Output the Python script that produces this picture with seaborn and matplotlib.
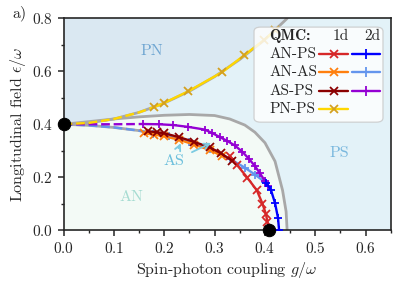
import numpy as np
import matplotlib
matplotlib.use("Agg")
import matplotlib.pyplot as plt
import seaborn as sns
from matplotlib.patches import FancyBboxPatch
from matplotlib.ticker import AutoMinorLocator

# --- mean-field phase boundaries (gray) ---
mf_pnps_g = [0.0, 0.05, 0.1, 0.15, 0.2, 0.25, 0.3, 0.35, 0.4, 0.444]
mf_pnps_e = [0.4, 0.405, 0.42, 0.445, 0.48, 0.525, 0.58, 0.645, 0.72, 0.80]
mf_arc_g = [0.0, 0.05, 0.1, 0.15, 0.2, 0.25, 0.3, 0.33, 0.36, 0.38, 0.4, 0.42, 0.435, 0.442, 0.444]
mf_arc_e = [0.4, 0.41, 0.42, 0.428, 0.434, 0.437, 0.433, 0.42, 0.397, 0.37, 0.33, 0.26, 0.15, 0.07, 0.0]
mf_anas_g = [0.0, 0.05, 0.1, 0.15, 0.18]
mf_anas_e = [0.4, 0.396, 0.388, 0.376, 0.364]

# --- QMC boundaries ---
# 1d
anps_1d_g = [0.33, 0.345, 0.365, 0.384, 0.395, 0.402, 0.405, 0.408]
anps_1d_e = [0.28, 0.245, 0.198, 0.15, 0.10, 0.06, 0.03, 0.0]
anas_1d_g = [0.16, 0.18, 0.2, 0.23, 0.26, 0.29, 0.315]
anas_1d_e = [0.366, 0.361, 0.355, 0.341, 0.323, 0.303, 0.28]
asps_1d_g = [0.167, 0.185, 0.2, 0.23, 0.26, 0.29, 0.313, 0.335]
asps_1d_e = [0.374, 0.37, 0.366, 0.351, 0.333, 0.313, 0.29, 0.262]
pnps_1d_g = [0.18, 0.199, 0.248, 0.315, 0.359, 0.398, 0.42]
pnps_1d_e = [0.465, 0.48, 0.525, 0.597, 0.661, 0.718, 0.755]
pnps_1d_dash_g = [0.0, 0.05, 0.1, 0.15, 0.18]
pnps_1d_dash_e = [0.4, 0.405, 0.42, 0.445, 0.465]
# 2d
anps_2d_g = [0.403, 0.412, 0.42, 0.426, 0.428]
anps_2d_e = [0.178, 0.151, 0.102, 0.045, 0.0]
anas_2d_g = [0.178, 0.21, 0.25, 0.29, 0.33, 0.36, 0.38, 0.401]
anas_2d_e = [0.365, 0.354, 0.334, 0.305, 0.27, 0.236, 0.21, 0.18]
anas_2d_dash_g = [0.0, 0.05, 0.1, 0.15, 0.178]
anas_2d_dash_e = [0.4, 0.396, 0.388, 0.376, 0.365]
asps_2d_g = [0.157, 0.19, 0.218, 0.248, 0.28, 0.295, 0.31, 0.325, 0.34, 0.355, 0.368, 0.38, 0.39, 0.4, 0.406]
asps_2d_e = [0.401, 0.4, 0.397, 0.39, 0.38, 0.367, 0.352, 0.337, 0.32, 0.296, 0.27, 0.242, 0.215, 0.185, 0.165]
asps_2d_dash_g = [0.0, 0.05, 0.1, 0.157]
asps_2d_dash_e = [0.4, 0.4, 0.4, 0.401]

crit_g = [0.0, 0.408]
crit_e = [0.4, 0.0]

legend_rows = ["AN-PS", "AN-AS", "AS-PS", "PN-PS"]
colors_1d = ["#d62728", "#ff7f0e", "#8b0000", "#ffd700"]
colors_2d = ["#0000ff", "#6495ed", "#9400d3", None]

PN_COLOR = "#dae8f2"
PS_COLOR = "#e3f2f8"
AN_COLOR = "#f3faf6"
GRAY = "#a8a8a8"
FS = 11.5
LFS = 11

sns.set_style("ticks")
plt.rcParams["font.family"] = ["cmr10"]
plt.rcParams["mathtext.fontset"] = "cm"
plt.rcParams["axes.formatter.use_mathtext"] = True
plt.rcParams["axes.unicode_minus"] = False

fig = plt.figure(figsize=(4.05, 2.88), dpi=100)
ax = fig.add_axes([0.157, 0.201, 0.808, 0.735])
ax.set_facecolor(PS_COLOR)
ax.fill_between(mf_arc_g, 0, mf_arc_e, color=AN_COLOR, lw=0, zorder=0)
ax.fill_between(mf_pnps_g, mf_pnps_e, 0.8, color=PN_COLOR, lw=0, zorder=0)


def curve(g, e, color, marker=None, ls="-", z=3, mec=None):
    kw = {}
    if marker:
        kw = dict(marker=marker, markersize=5.5, markeredgewidth=1.3,
                  markeredgecolor=mec or color)
    sns.lineplot(x=g, y=e, color=color, lw=1.7, linestyle=ls, sort=False,
                 estimator=None, ax=ax, zorder=z, **kw)


# gray mean-field lines
for g, e in [(mf_pnps_g, mf_pnps_e), (mf_arc_g, mf_arc_e), (mf_anas_g, mf_anas_e)]:
    sns.lineplot(x=g, y=e, color=GRAY, lw=2, sort=False, estimator=None, ax=ax, zorder=2)

curve(anas_2d_dash_g, anas_2d_dash_e, colors_2d[1], ls="--", z=3)
curve(anas_2d_g, anas_2d_e, colors_2d[1], marker="+", z=3)
curve(anas_1d_g, anas_1d_e, colors_1d[1], marker="x", z=4)
curve(asps_2d_dash_g, asps_2d_dash_e, colors_2d[2], ls="--", z=4)
curve(asps_2d_g, asps_2d_e, colors_2d[2], marker="+", z=4)
curve(anps_2d_g, anps_2d_e, colors_2d[0], marker="+", z=4)
curve(anps_1d_g, anps_1d_e, colors_1d[0], marker="x", z=5)
curve(asps_1d_g, asps_1d_e, colors_1d[2], marker="x", z=5)
curve(pnps_1d_dash_g, pnps_1d_dash_e, colors_1d[3], ls="--", z=4)
curve(pnps_1d_g, pnps_1d_e, colors_1d[3], marker="x", z=4, mec="#d4a020")

sns.scatterplot(x=crit_g, y=crit_e, color="black", s=80, ax=ax, zorder=8,
                clip_on=False, edgecolor="black")

# region labels
ax.text(0.175, 0.675, "PN", color="#6fa6d2", fontsize=FS, ha="center", va="center")
ax.text(0.547, 0.29, "PS", color="#7ab8de", fontsize=FS, ha="center", va="center")
ax.text(0.135, 0.125, "AN", color="#a6dcd2", fontsize=FS, ha="center", va="center")
ax.text(0.22, 0.262, "AS", color="#6cbfdc", fontsize=FS, ha="center", va="center")
ax.annotate("", xy=(0.235, 0.338), xytext=(0.226, 0.3),
            arrowprops=dict(arrowstyle="->", color="#7ccbe2", lw=1.3), zorder=9)
ax.annotate("", xy=(0.298, 0.334), xytext=(0.25, 0.29),
            arrowprops=dict(arrowstyle="->", color="#7ccbe2", lw=1.3), zorder=9)

ax.set_xlim(0, 0.65)
ax.set_ylim(0, 0.8)
ax.set_xticks(np.arange(0, 0.61, 0.1))
ax.set_yticks(np.arange(0, 0.81, 0.2))
ax.xaxis.set_minor_locator(AutoMinorLocator(2))
ax.yaxis.set_minor_locator(AutoMinorLocator(2))
ax.tick_params(which="major", direction="out", length=4, width=1.1, labelsize=11, color="#262626")
ax.tick_params(which="minor", direction="out", length=2.5, width=1.0, color="#262626")
for sp in ax.spines.values():
    sp.set_visible(True)
    sp.set_color("#262626")
    sp.set_linewidth(1.2)
ax.set_xlabel(r"Spin-photon coupling $g/\omega$", fontsize=FS, labelpad=3)
ax.set_ylabel(r"Longitudinal field $\epsilon/\omega$", fontsize=FS, labelpad=3)

# legend drawn by hand: rows x {1d, 2d}
ax.add_patch(FancyBboxPatch((0.582, 0.51), 0.394, 0.449,
                            boxstyle="round,pad=0,rounding_size=0.02",
                            transform=ax.transAxes, fc="white", ec="#c8c8c8",
                            lw=0.9, alpha=0.82, zorder=10))
ax.text(0.628, 0.916, "QMC:", family="cmb10", fontsize=LFS, transform=ax.transAxes,
        va="center", zorder=11)
ax.text(0.847, 0.916, "1d", fontsize=LFS, transform=ax.transAxes, ha="center", va="center", zorder=11)
ax.text(0.942, 0.916, "2d", fontsize=LFS, transform=ax.transAxes, ha="center", va="center", zorder=11)
row_y = [0.831, 0.746, 0.657, 0.572]
for name, c1, c2, y in zip(legend_rows, colors_1d, colors_2d, row_y):
    ax.text(0.628, y, name, fontsize=LFS, transform=ax.transAxes, va="center", zorder=11)
    mec = "#d4a020" if name == "PN-PS" else c1
    ax.plot([0.782, 0.869], [y, y], color=c1, lw=1.7, transform=ax.transAxes, zorder=11)
    ax.plot([0.825], [y], marker="x", ms=5.5, mew=1.3, mec=mec, transform=ax.transAxes, zorder=12)
    if c2:
        ax.plot([0.881, 0.966], [y, y], color=c2, lw=1.7, transform=ax.transAxes, zorder=11)
        ax.plot([0.924], [y], marker="+", ms=6.5, mew=1.3, mec=c2, transform=ax.transAxes, zorder=12)

fig.text(0.03, 0.955, "a)", fontsize=FS, va="center")

fig.savefig("out.png", dpi=100)
